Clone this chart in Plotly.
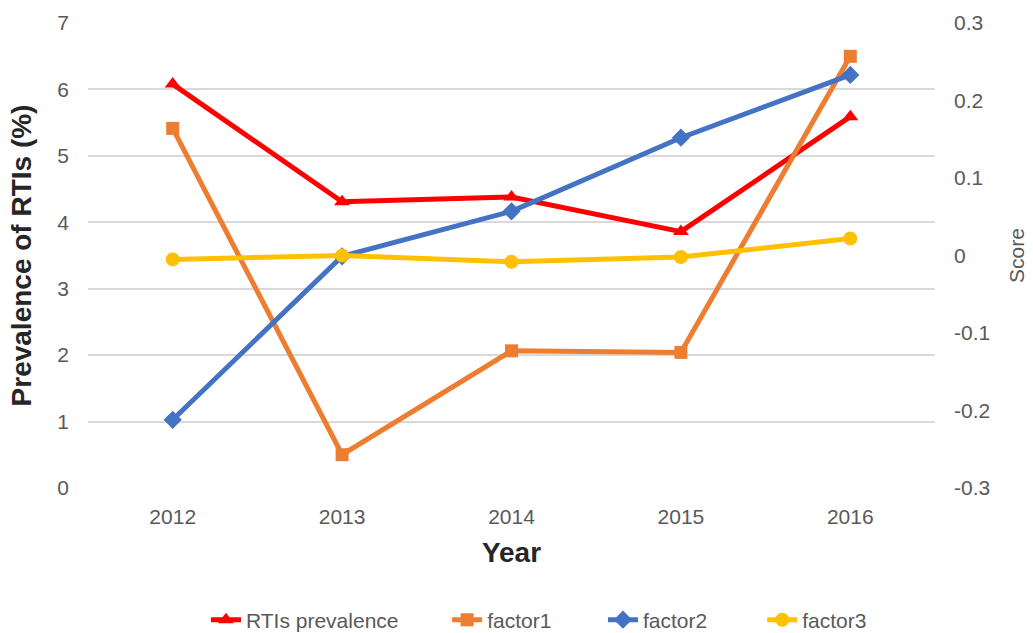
import plotly.graph_objects as go

years = ["2012", "2013", "2014", "2015", "2016"]
rti_prevalence = [6.08, 4.31, 4.38, 3.86, 5.59]
factor1 = [0.164, -0.257, -0.123, -0.125, 0.257]
factor2 = [-0.212, -0.001, 0.057, 0.152, 0.233]
factor3 = [-0.005, 0.0, -0.008, -0.002, 0.022]

left_ticks = [0, 1, 2, 3, 4, 5, 6, 7]
right_tickvals = [-0.3, -0.2, -0.1, 0, 0.1, 0.2, 0.3]
right_ticktext = ["-0.3", "-0.2", "-0.1", "0", "0.1", "0.2", "0.3"]

FONT = "Liberation Sans, Arial, sans-serif"
tick_font = dict(family=FONT, size=21, color="#595959")
legend_font = dict(family=FONT, size=21, color="#595959")

fig = go.Figure()
fig.add_trace(go.Scatter(x=years, y=rti_prevalence, name="RTIs prevalence", mode="lines+markers",
                         line=dict(color="#FF0000", width=5),
                         marker=dict(symbol="triangle-up", size=14, color="#FF0000"),
                         yaxis="y", legend="legend"))
fig.add_trace(go.Scatter(x=years, y=factor1, name="factor1", mode="lines+markers",
                         line=dict(color="#ED7D31", width=5),
                         marker=dict(symbol="square", size=13, color="#ED7D31"),
                         yaxis="y2", legend="legend2"))
fig.add_trace(go.Scatter(x=years, y=factor2, name="factor2", mode="lines+markers",
                         line=dict(color="#4472C4", width=5),
                         marker=dict(symbol="diamond", size=14, color="#4472C4"),
                         yaxis="y2", legend="legend3"))
fig.add_trace(go.Scatter(x=years, y=factor3, name="factor3", mode="lines+markers",
                         line=dict(color="#FFC000", width=5),
                         marker=dict(symbol="circle", size=14, color="#FFC000"),
                         yaxis="y2", legend="legend4"))

def leg(xpos):
    return dict(orientation="h", x=xpos, xanchor="left", y=-0.284, yanchor="middle",
                font=legend_font, bgcolor="rgba(0,0,0,0)")

fig.update_layout(
    width=1033, height=633,
    margin=dict(l=88, r=98, t=23, b=145, autoexpand=False),
    paper_bgcolor="white", plot_bgcolor="white",
    showlegend=True,
    legend=leg(0.1393), legend2=leg(0.424), legend3=leg(0.608), legend4=leg(0.796),
    xaxis=dict(type="category", range=[-0.5, 4.5], showgrid=False, zeroline=False,
               showline=False, ticks="", tickfont=tick_font, ticklabelstandoff=14,
               title=dict(text="<b>Year</b>", standoff=15,
                          font=dict(family=FONT, size=28, color="#262626"))),
    yaxis=dict(range=[0, 7], tickvals=left_ticks, showgrid=True, gridcolor="#D9D9D9", gridwidth=1.5,
               zeroline=False, showline=False, ticks="", tickfont=tick_font, ticklabelstandoff=18,
               title=dict(text="<b>Prevalence of RTIs (%)</b>", standoff=17,
                          font=dict(family=FONT, size=28, color="#262626"))),
    yaxis2=dict(range=[-0.3, 0.3], tickvals=right_tickvals, ticktext=right_ticktext, overlaying="y",
                side="right", showgrid=False, zeroline=False, showline=False, ticks="",
                tickfont=tick_font, ticklabelstandoff=18,
                title=dict(text="Score", standoff=20,
                           font=dict(family=FONT, size=21, color="#595959"))),
)

fig.write_html("out.html", config={"displayModeBar": False},
               post_script="document.body.style.margin='0';")
